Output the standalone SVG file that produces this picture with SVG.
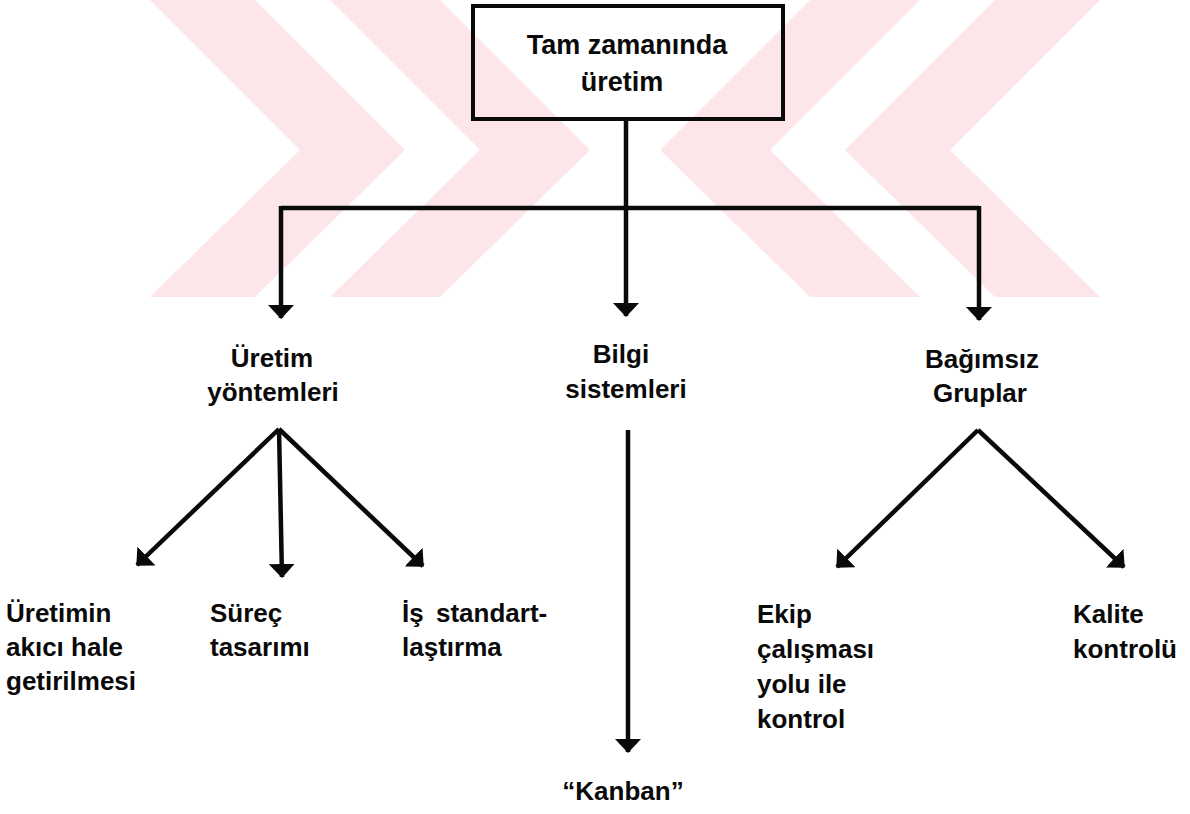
<svg xmlns="http://www.w3.org/2000/svg" width="1190" height="814" viewBox="0 0 1190 814">
  <style>
    .lbl { font-family: "Liberation Sans", Arial, sans-serif; font-weight: bold; font-size: 26px; fill: #0a0a0a; }
    .top { font-size: 27px; text-anchor: middle; }
    .mid { text-anchor: middle; }
    .edge { stroke: #0a0a0a; stroke-width: 4.5; fill: none; }
    .wm { fill: #fde6ea; }
  </style>
  <defs>
    <marker id="head" markerUnits="userSpaceOnUse" markerWidth="14" markerHeight="26" refX="13" refY="13" orient="auto">
      <path d="M0,0 L14,13 L0,26 Z" fill="#0a0a0a"/>
    </marker>
  </defs>

  <rect width="1190" height="814" fill="#ffffff"/>

  <!-- background emblem: two mirrored pairs of chevrons, cut off at the bottom -->
  <g id="emblem">
    <polygon class="wm" points="150,0 255,0 405,150 255,297 150,297 300,150"/>
    <polygon class="wm" points="330,0 440,0 590,150 440,297 330,297 480,150"/>
    <polygon class="wm" points="1100,0 995,0 845,150 995,297 1100,297 950,150"/>
    <polygon class="wm" points="920,0 810,0 660,150 810,297 920,297 770,150"/>
  </g>

  <g id="connectors">
    <polyline class="edge" points="626,119 626,208"/>
    <polyline class="edge" points="281,208 979,208" stroke-width="5"/>
    <line class="edge" x1="281" y1="206" x2="281" y2="318" marker-end="url(#head)"/>
    <line class="edge" x1="626" y1="206" x2="626" y2="316" marker-end="url(#head)"/>
    <line class="edge" x1="979" y1="206" x2="979" y2="320" marker-end="url(#head)"/>

    <line class="edge" x1="279" y1="429" x2="137" y2="565" marker-end="url(#head)"/>
    <line class="edge" x1="279" y1="429" x2="282" y2="577" marker-end="url(#head)"/>
    <line class="edge" x1="279" y1="429" x2="423" y2="566" marker-end="url(#head)"/>

    <line class="edge" x1="628" y1="430" x2="628" y2="752" marker-end="url(#head)"/>

    <line class="edge" x1="978" y1="430" x2="837" y2="567" marker-end="url(#head)"/>
    <line class="edge" x1="978" y1="430" x2="1124" y2="567" marker-end="url(#head)"/>
  </g>

  <g id="node-root">
    <rect x="473" y="6" width="310" height="113" fill="none" stroke="#0a0a0a" stroke-width="4"/>
    <text class="lbl top" x="627" y="54">Tam zamanında</text>
    <text class="lbl top" x="622" y="91">üretim</text>
  </g>

  <g id="node-uretim-yontemleri">
    <text class="lbl mid" x="272" y="367">Üretim</text>
    <text class="lbl mid" x="273" y="401">yöntemleri</text>
  </g>

  <g id="node-bilgi-sistemleri">
    <text class="lbl mid" x="621" y="363">Bilgi</text>
    <text class="lbl mid" x="626" y="398">sistemleri</text>
  </g>

  <g id="node-bagimsiz-gruplar">
    <text class="lbl mid" x="982" y="368">Bağımsız</text>
    <text class="lbl mid" x="980" y="402">Gruplar</text>
  </g>

  <g id="node-akici">
    <text class="lbl" x="6" y="622">Üretimin</text>
    <text class="lbl" x="6" y="656">akıcı hale</text>
    <text class="lbl" x="6" y="690">getirilmesi</text>
  </g>

  <g id="node-surec">
    <text class="lbl" x="210" y="622">Süreç</text>
    <text class="lbl" x="210" y="656">tasarımı</text>
  </g>

  <g id="node-is-standart">
    <text class="lbl" x="402" y="622">İş <tspan x="436">standart-</tspan></text>
    <text class="lbl" x="402" y="656">laştırma</text>
  </g>

  <g id="node-kanban">
    <text class="lbl mid" x="623" y="800">“Kanban”</text>
  </g>

  <g id="node-ekip">
    <text class="lbl" x="757" y="623">Ekip</text>
    <text class="lbl" x="757" y="658">çalışması</text>
    <text class="lbl" x="757" y="693">yolu ile</text>
    <text class="lbl" x="757" y="728">kontrol</text>
  </g>

  <g id="node-kalite">
    <text class="lbl" x="1073" y="623">Kalite</text>
    <text class="lbl" x="1073" y="658">kontrolü</text>
  </g>
</svg>
